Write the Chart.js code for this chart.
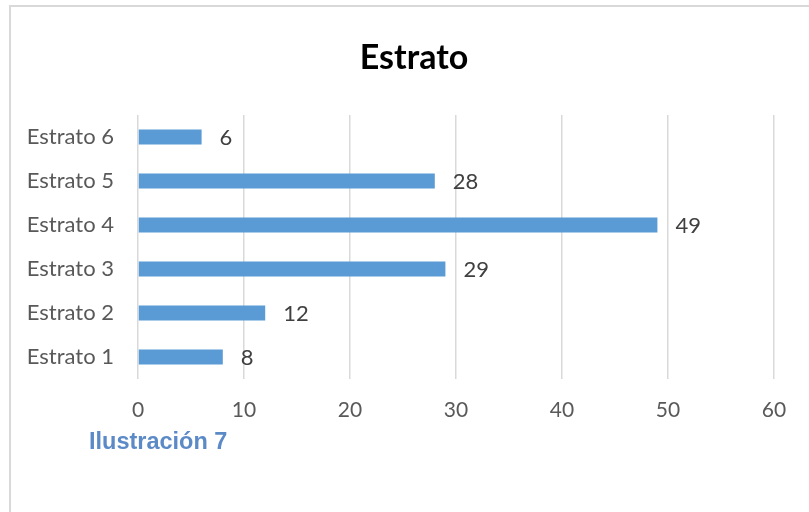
<!DOCTYPE html>
<html>
<head>
<meta charset="utf-8">
<script src="https://cdn.jsdelivr.net/npm/chart.js@4.4.1/dist/chart.umd.min.js"></script>
<style>
    html, body { margin: 0; padding: 0; background: #fff; }
    #wrap { position: relative; width: 809px; height: 512px; overflow: hidden; }
    #frame { position: absolute; left: 9px; top: 5px; width: 900px; height: 600px; border: 2px solid #d9d9d9; box-sizing: border-box; }
    #chart { position: absolute; left: 0; top: 0; }
    #title { position: absolute; left: 314px; width: 200px; top: 35px; text-align: center; font: bold 34px Lato, "Open Sans", sans-serif; color: #000; }
    #caption { position: absolute; left: 89px; top: 428px; font: bold 23.5px "Liberation Sans", Arial, sans-serif; color: #5b8ac6; }
</style>
</head>
<body>
<div id="wrap">
    <div id="frame"></div>
    <canvas id="chart" width="809" height="512"></canvas>
    <div id="title">Estrato</div>
    <div id="caption">Ilustración 7</div>
</div>
<script>
// Estrato chart

const categories = ['Estrato 1', 'Estrato 2', 'Estrato 3', 'Estrato 4', 'Estrato 5', 'Estrato 6'];
const values = [8, 12, 29, 49, 28, 6];
const xTicks = [0, 10, 20, 30, 40, 50, 60];

const labelFont = 'Lato, "Open Sans", sans-serif';

// Value labels to the right of each bar
const valueLabels = {
    id: 'valueLabels',
    afterDatasetsDraw(chart) {
        const ctx = chart.ctx;
        const meta = chart.getDatasetMeta(0);
        ctx.save();
        ctx.font = '22px ' + labelFont;
        ctx.fillStyle = '#404040';
        ctx.textAlign = 'left';
        ctx.textBaseline = 'middle';
        meta.data.forEach((bar, i) => {
            ctx.fillText(String(values[i]), bar.x + 18, bar.y + 1);
        });
        ctx.restore();
    }
};

new Chart(document.getElementById('chart').getContext('2d'), {
    type: 'bar',
    data: {
        labels: categories,
        datasets: [{
            data: values,
            backgroundColor: '#5b9bd5',
            borderWidth: 0,
            categoryPercentage: 1,
            barPercentage: 0.34
        }]
    },
    options: {
        indexAxis: 'y',
        responsive: false,
        animation: false,
        layout: { padding: { left: 0, right: 35, top: 115, bottom: 0 } },
        plugins: {
            legend: { display: false },
            tooltip: { enabled: false },
            title: { display: false }
        },
        scales: {
            x: {
                min: 0,
                max: 60,
                afterBuildTicks: (scale) => {
                    scale.ticks = xTicks.map(v => ({ value: v }));
                },
                afterFit: (scale) => { scale.height = 133; },
                grid: { color: '#d9d9d9', lineWidth: 1.5, drawTicks: false },
                border: { display: false },
                ticks: {
                    color: '#595959',
                    font: { family: labelFont, size: 21 },
                    padding: 19
                }
            },
            y: {
                reverse: true,
                afterFit: (scale) => { scale.width = 138; },
                grid: { display: false, drawTicks: false },
                border: { display: false },
                ticks: {
                    color: '#595959',
                    font: { family: labelFont, size: 22 },
                    padding: 24
                }
            }
        }
    },
    plugins: [valueLabels]
});
</script>
</body>
</html>
